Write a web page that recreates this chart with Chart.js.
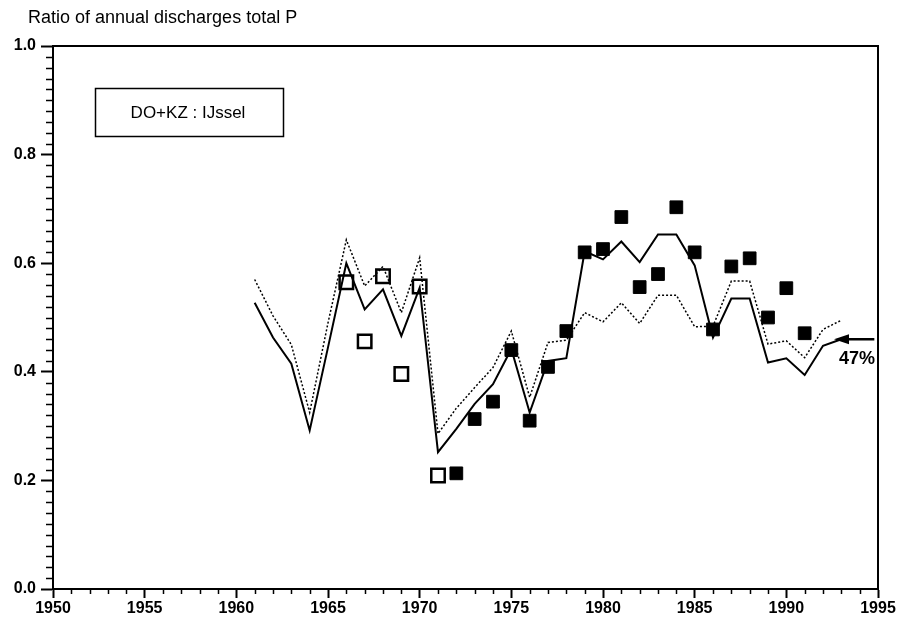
<!DOCTYPE html>
<html>
<head>
<meta charset="utf-8">
<script src="https://cdn.jsdelivr.net/npm/chart.js@4"></script>
<style>
  html, body { margin: 0; padding: 0; background: #fff; }
  #wrap { width: 907px; height: 625px; position: relative; }
</style>
</head>
<body>
<div id="wrap"><canvas id="ratioChart"></canvas></div>
<script>
// ratio of annual discharges total P, DO+KZ : IJssel
const years = [1961, 1962, 1963, 1964, 1965, 1966, 1967, 1968, 1969, 1970,
  1971, 1972, 1973, 1974, 1975, 1976, 1977, 1978, 1979, 1980,
  1981, 1982, 1983, 1984, 1985, 1986, 1987, 1988, 1989, 1990,
  1991, 1992, 1993];
const solidRatio = [0.527, 0.463, 0.415, 0.292, 0.445, 0.600, 0.515, 0.552, 0.466, 0.555,
  0.252, 0.295, 0.341, 0.377, 0.442, 0.325, 0.420, 0.425, 0.622, 0.607,
  0.640, 0.602, 0.653, 0.653, 0.596, 0.463, 0.535, 0.535, 0.417, 0.425,
  0.394, 0.448, 0.460];
const dottedRatio = [0.570, 0.503, 0.450, 0.325, 0.490, 0.643, 0.558, 0.594, 0.509, 0.610,
  0.286, 0.333, 0.371, 0.408, 0.475, 0.353, 0.454, 0.458, 0.509, 0.492,
  0.527, 0.489, 0.541, 0.541, 0.483, 0.484, 0.567, 0.567, 0.451, 0.457,
  0.426, 0.478, 0.495];
const openYears = [1966, 1967, 1968, 1969, 1970, 1971];
const openRatio = [0.565, 0.456, 0.576, 0.396, 0.557, 0.209];
const filledYears = [1972, 1973, 1974, 1975, 1976, 1977, 1978, 1979, 1980, 1981,
  1982, 1983, 1984, 1985, 1986, 1987, 1988, 1989, 1990, 1991];
const filledRatio = [0.213, 0.313, 0.345, 0.440, 0.310, 0.409, 0.475, 0.620, 0.626, 0.685,
  0.556, 0.580, 0.703, 0.620, 0.478, 0.594, 0.609, 0.500, 0.554, 0.471];
const yTicks = [0, 0.2, 0.4, 0.6, 0.8, 1.0];
const xTicks = [1950, 1955, 1960, 1965, 1970, 1975, 1980, 1985, 1990, 1995];
const titleText = 'Ratio of annual discharges total P';
const boxText = 'DO+KZ : IJssel';
const endLabel = '47%';
const endValue = 0.46;

const FONT = '"Liberation Sans", Arial, sans-serif';

const toXY = (xs, ys) => xs.map((x, i) => ({ x, y: ys[i] }));

// title, frame, minor ticks, label box and arrow
const decor = {
  id: 'decor',
  afterDraw(chart) {
    const { ctx, chartArea: a, scales: { x, y } } = chart;
    ctx.save();
    ctx.fillStyle = '#000';
    ctx.strokeStyle = '#000';

    ctx.font = '18px ' + FONT;
    ctx.textBaseline = 'alphabetic';
    ctx.textAlign = 'left';
    ctx.fillText(titleText, 28, 23);

    // top + right frame
    ctx.lineWidth = 2;
    ctx.beginPath();
    ctx.moveTo(a.left, a.top);
    ctx.lineTo(a.right, a.top);
    ctx.lineTo(a.right, a.bottom);
    ctx.stroke();

    // minor ticks
    ctx.lineWidth = 1.5;
    ctx.beginPath();
    for (let yr = 1951; yr < 1995; yr++) {
      if (yr % 5 === 0) continue;
      const px = Math.round(x.getPixelForValue(yr)) + 0.5;
      ctx.moveTo(px, a.bottom);
      ctx.lineTo(px, a.bottom + 5);
    }
    for (let i = 1; i < 50; i++) {
      if (i % 10 === 0) continue;
      const py = Math.round(y.getPixelForValue(i * 0.02)) + 0.5;
      ctx.moveTo(a.left, py);
      ctx.lineTo(a.left - 7, py);
    }
    ctx.stroke();

    // label box
    ctx.lineWidth = 1.5;
    ctx.strokeRect(95.5, 88.5, 188, 48);
    ctx.font = '17px ' + FONT;
    ctx.textAlign = 'center';
    ctx.textBaseline = 'middle';
    ctx.fillText(boxText, 188, 113);

    // arrow to end value
    const ay = y.getPixelForValue(endValue);
    const x0 = x.getPixelForValue(1994.8);
    const x1 = x.getPixelForValue(1992.6);
    ctx.lineWidth = 2.5;
    ctx.beginPath();
    ctx.moveTo(x0, ay);
    ctx.lineTo(x1 + 8, ay);
    ctx.stroke();
    ctx.beginPath();
    ctx.moveTo(x1, ay);
    ctx.lineTo(x1 + 15, ay - 5);
    ctx.lineTo(x1 + 15, ay + 5);
    ctx.closePath();
    ctx.fill();
    ctx.font = 'bold 18px ' + FONT;
    ctx.textAlign = 'center';
    ctx.textBaseline = 'alphabetic';
    ctx.fillText(endLabel, x.getPixelForValue(1993.85), y.getPixelForValue(0.415));
    ctx.restore();
  }
};

new Chart(document.getElementById('ratioChart'), {
  type: 'scatter',
  data: {
    datasets: [
      {
        type: 'line',
        data: toXY(years, solidRatio),
        borderColor: '#000',
        borderWidth: 2,
        pointRadius: 0,
        tension: 0,
        fill: false
      },
      {
        type: 'line',
        data: toXY(years, dottedRatio),
        borderColor: '#000',
        borderWidth: 1.5,
        borderDash: [2, 2],
        pointRadius: 0,
        tension: 0,
        fill: false
      },
      {
        data: toXY(openYears, openRatio),
        pointStyle: 'rect',
        pointRadius: 9.5,
        pointBackgroundColor: '#fff',
        pointBorderColor: '#000',
        pointBorderWidth: 2.5
      },
      {
        data: toXY(filledYears, filledRatio),
        pointStyle: 'rect',
        pointRadius: 9,
        pointBackgroundColor: '#000',
        pointBorderColor: '#000',
        pointBorderWidth: 1
      }
    ]
  },
  options: {
    responsive: true,
    maintainAspectRatio: false,
    animation: false,
    layout: { padding: { top: 46, right: 29, left: 0, bottom: 0 } },
    plugins: {
      legend: { display: false },
      tooltip: { enabled: false }
    },
    scales: {
      x: {
        type: 'linear',
        min: 1950,
        max: 1995,
        afterBuildTicks: s => { s.ticks = xTicks.map(v => ({ value: v })); },
        afterFit: s => { s.height = 36; },
        border: { display: true, color: '#000', width: 2 },
        grid: { drawOnChartArea: false, drawTicks: true, tickLength: 9, tickWidth: 2, tickColor: '#000' },
        ticks: {
          color: '#000',
          padding: 1,
          maxRotation: 0,
          font: { family: FONT, size: 16, weight: 'bold' },
          callback: v => String(v)
        }
      },
      y: {
        min: 0,
        max: 1,
        afterBuildTicks: s => { s.ticks = yTicks.map(v => ({ value: v })); },
        afterFit: s => { s.width = 53; },
        border: { display: true, color: '#000', width: 2 },
        grid: { drawOnChartArea: false, drawTicks: true, tickLength: 12, tickWidth: 2, tickColor: '#000' },
        ticks: {
          color: '#000',
          padding: 5,
          font: { family: FONT, size: 16, weight: 'bold' },
          callback: v => v.toFixed(1)
        }
      }
    }
  },
  plugins: [decor]
});
</script>
</body>
</html>
